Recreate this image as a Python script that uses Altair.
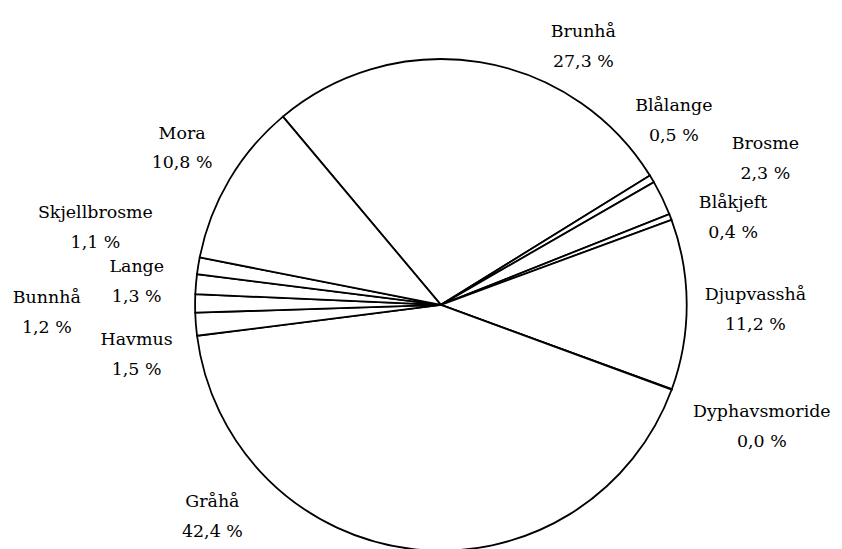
import math
import altair as alt
import pandas as pd

# Data (clockwise from the top-left)
species = ["Brunhå", "Blålange", "Brosme", "Blåkjeft", "Djupvasshå", "Dyphavsmoride",
           "Gråhå", "Havmus", "Bunnhå", "Lange", "Skjellbrosme", "Mora"]
shares = [27.3, 0.5, 2.3, 0.4, 11.2, 0.04, 42.4, 1.5, 1.2, 1.3, 1.1, 10.8]

# Label layout (angle in degrees clockwise from 12 o'clock, distance from centre in px)
label_angle = [28.4, 50.8, 64.9, 72.4, 89.8, 109.9, 228.0, 261.8, 269.7, 275.4, 283.5, 302.1]
label_dist = [301, 302, 360, 308, 316, 343, 309, 309, 396, 307, 357, 307]

START_DEG = 320.0
start = math.radians(START_DEG)

df = pd.DataFrame({
    "species": species,
    "share": shares,
    "idx": list(range(len(species))),
    "pct": [f"{v:.1f}".replace(".", ",") + " %" for v in shares],
    "lab_theta": [math.radians(a) for a in label_angle],
    "lab_r": label_dist,
})

SERIF = "DejaVu Serif"

pie = alt.Chart(df).mark_arc(
    radius=247, fill="white", stroke="black", strokeWidth=1.8
).encode(
    theta=alt.Theta("share:Q", stack=True,
                    scale=alt.Scale(range=[start, start + 2 * math.pi])),
    order=alt.Order("idx:Q", sort="ascending"),
)

base = alt.Chart(df).encode(
    theta=alt.Theta("lab_theta:Q", scale=None, stack=None),
    radius=alt.Radius("lab_r:Q", scale=None),
)

name_text = base.mark_text(
    font=SERIF, fontSize=17.5, color="black", align="center", dy=-9
).encode(text="species:N")

pct_text = base.mark_text(
    font=SERIF, fontSize=17.5, color="black", align="center", dy=21
).encode(text="pct:N")

chart = alt.layer(pie, name_text, pct_text).properties(
    width=400, height=480,
    padding={"left": 235, "top": 57, "right": 195, "bottom": 4},
    autosize=alt.AutoSizeParams(type="none"),
)

chart.save("out.html", embed_options={"renderer": "svg", "actions": False})
